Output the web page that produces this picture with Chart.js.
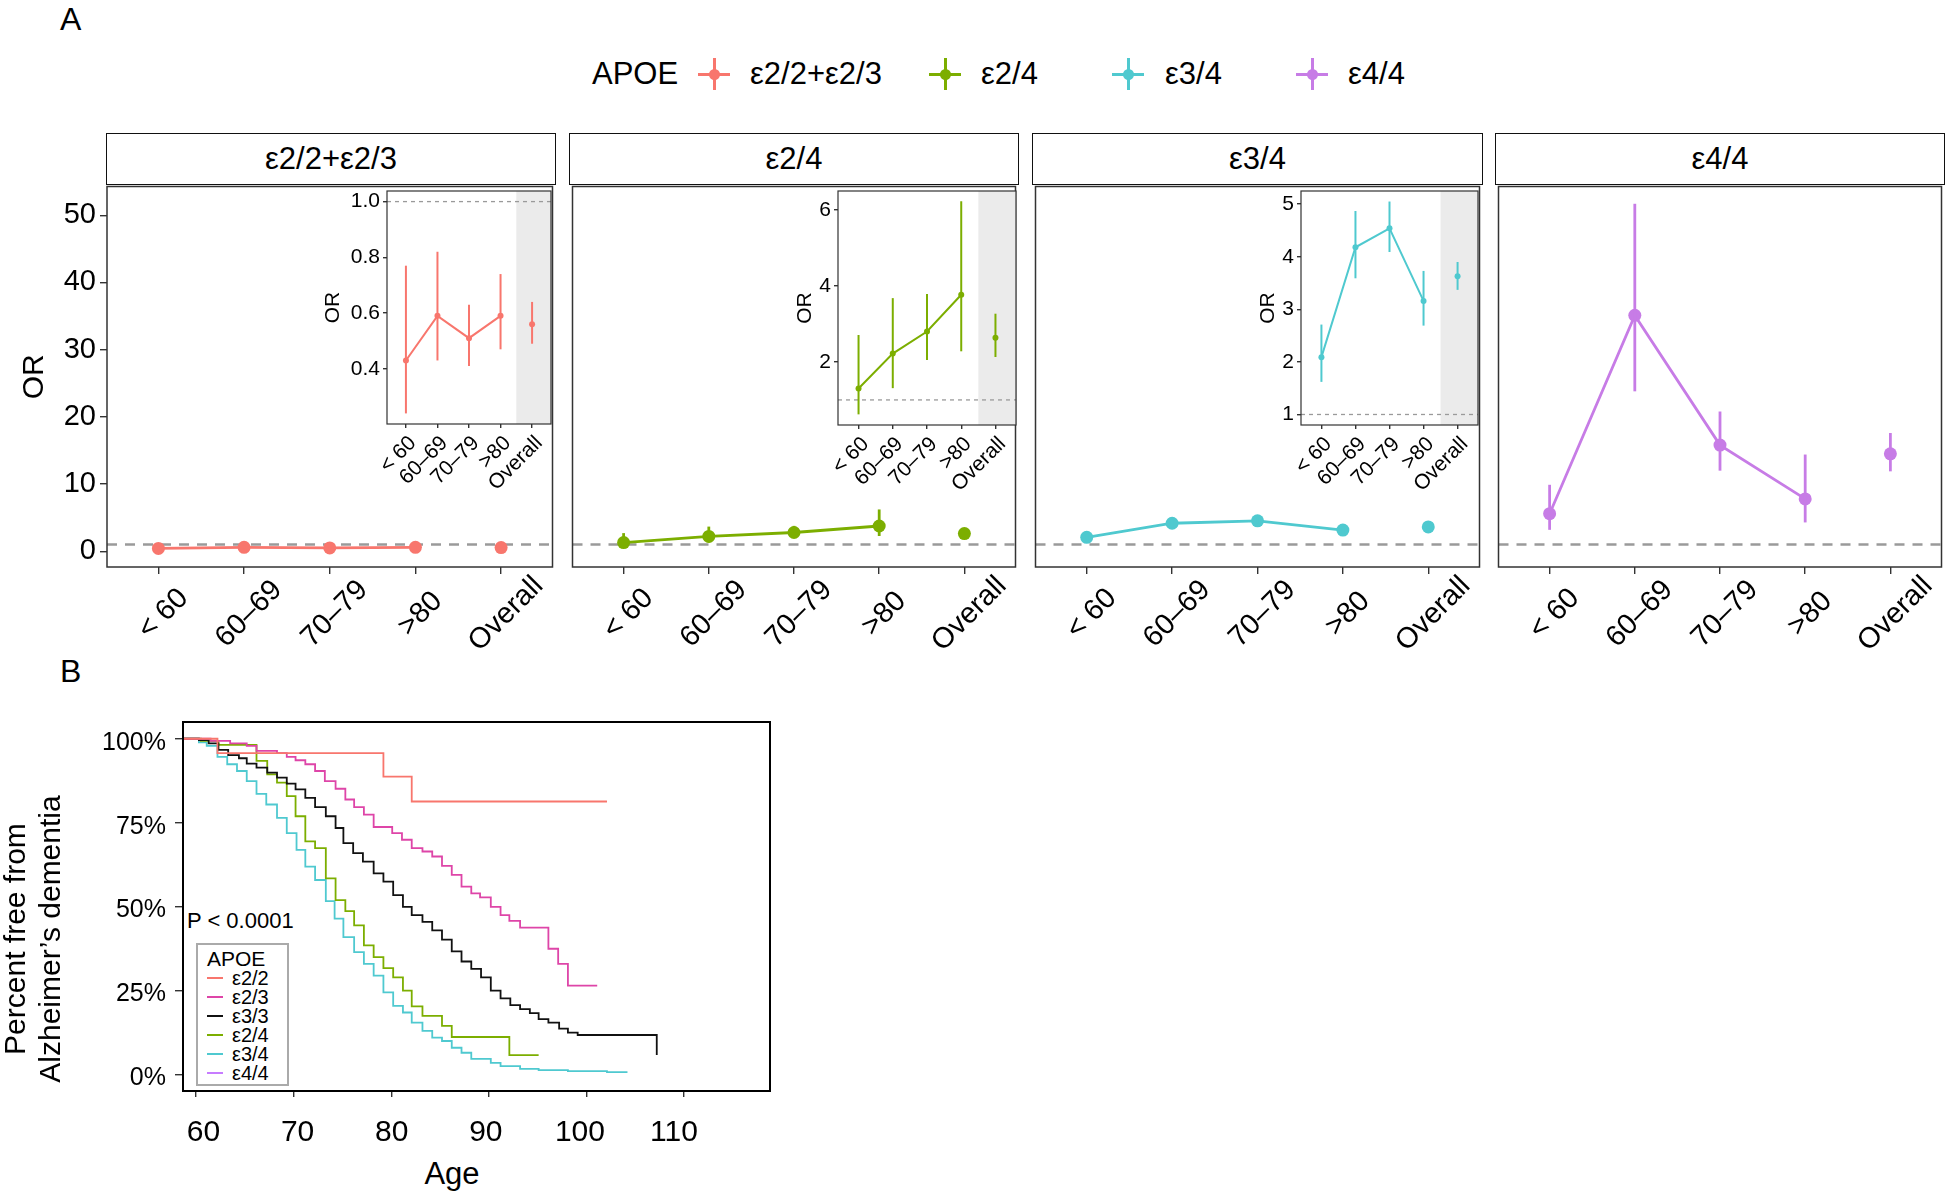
<!DOCTYPE html>
<html lang="en">
<head>
<meta charset="UTF-8">
<title>APOE, age and Alzheimer's dementia</title>
<script src="https://cdn.jsdelivr.net/npm/chart.js"></script>
<style>
    body { margin: 0; background: #fff; }
    #fig {
        position: relative; width: 1946px; height: 1192px; overflow: hidden;
        font-family: "Liberation Sans", Arial, Helvetica, sans-serif; color: #000;
    }
    #fig canvas { position: absolute; }
    .txt { position: absolute; white-space: nowrap; }
    .tag { font-size: 32px; line-height: 38px; }
    .strip {
        position: absolute; top: 133px; height: 52px; box-sizing: border-box;
        border: 1.5px solid #111; display: flex; align-items: center; justify-content: center;
        font-size: 31px; background: #fff;
    }
    .legA { font-size: 31px; line-height: 36px; top: 56px; }
    .keyA { position: absolute; top: 58px; width: 32px; height: 32px; }
    .keyA .h { position: absolute; left: 0; top: 14.5px; width: 32px; height: 3px; }
    .keyA .v { position: absolute; left: 14.5px; top: 0; width: 3px; height: 32px; }
    .keyA .d { position: absolute; left: 10.5px; top: 10.5px; width: 11px; height: 11px; border-radius: 50%; }
    #legB {
        position: absolute; left: 196px; top: 943px; width: 93px; height: 143px;
        box-sizing: border-box; border: 2px solid #aaa; background: #fff;
    }
    #legB .ttl { position: absolute; left: 9px; top: 1px; font-size: 21px; line-height: 26px; }
    #legB .row { position: absolute; left: 9px; height: 20px; font-size: 20px; line-height: 20px; }
    #legB .row span { position: absolute; left: 0; top: 9px; width: 16px; height: 2px; }
    #legB .row b { position: absolute; left: 25px; top: 0; font-weight: normal; }
    #ytitleB {
        position: absolute; left: 32px; top: 939px; width: 340px; font-size: 30px; line-height: 35px;
        text-align: center; transform: translate(-50%, -50%) rotate(-90deg); white-space: nowrap;
    }
</style>
</head>
<body>
<div id="fig">
    <div class="txt tag" style="left:60px; top:0px;">A</div>
    <div class="txt tag" style="left:60px; top:652px;">B</div>
    <div class="txt legA" style="left:592px;">APOE</div>
    <div class="txt" style="left:187px; top:908px; font-size:22px; line-height:26px;">P &lt; 0.0001</div>
    <div class="txt" style="left:452px; top:1155px; font-size:31px; line-height:37px; transform:translateX(-50%);">Age</div>
    <div id="ytitleB">Percent free from<br>Alzheimer’s dementia</div>
    <div id="legB"><div class="ttl">APOE</div></div>
</div>

<script>
    const FONT = '"Liberation Sans", Arial, Helvetica, sans-serif';
    Chart.defaults.font.family = FONT;
    Chart.defaults.color = '#000';

    // ---- Panel A: odds ratios by age group ----
    const ageGroups = ['< 60', '60–69', '70–79', '>80', 'Overall'];
    const genotypes = ['ε2/2+ε2/3', 'ε2/4', 'ε3/4', 'ε4/4'];
    const genoColors = ['#F8766D', '#7CAE00', '#4FC9CF', '#C77CE6'];

    const orE2 = [0.43, 0.59, 0.51, 0.59, 0.56];
    const loE2 = [0.24, 0.43, 0.41, 0.47, 0.49];
    const hiE2 = [0.77, 0.82, 0.63, 0.74, 0.64];

    const orE24 = [1.30, 2.22, 2.80, 3.77, 2.64];
    const loE24 = [0.62, 1.31, 2.05, 2.28, 2.13];
    const hiE24 = [2.71, 3.68, 3.79, 6.23, 3.27];

    const orE34 = [2.09, 4.18, 4.54, 3.16, 3.63];
    const loE34 = [1.62, 3.59, 4.09, 2.69, 3.37];
    const hiE34 = [2.71, 4.87, 5.05, 3.73, 3.90];

    const orE44 = [5.6, 35.1, 15.8, 7.8, 14.5];
    const loE44 = [3.2, 23.8, 12.0, 4.3, 11.9];
    const hiE44 = [9.9, 51.7, 20.8, 14.4, 17.6];

    const mainTicks = [0, 10, 20, 30, 40, 50];
    const insetTicksE2 = [0.4, 0.6, 0.8, 1.0];
    const insetTicksE24 = [2, 4, 6];
    const insetTicksE34 = [1, 2, 3, 4, 5];

    // ---- Panel B: Kaplan-Meier curves ----
    const kmGroups = ['ε2/2', 'ε2/3', 'ε3/3', 'ε2/4', 'ε3/4', 'ε4/4'];
    const kmColors = ['#F8766D', '#DE45A8', '#111111', '#7CAE00', '#4FC9D0', '#C77CFF'];
    const kmTicksX = [60, 70, 80, 90, 100, 110];
    const kmTicksY = [0, 25, 50, 75, 100];

    const ageE22 = [58.7, 62.2, 79.2, 82.1, 102.1];
    const survE22 = [100, 95.7, 88.7, 81.3, 81.3];

    const ageE23 = [58.7, 61.5, 63.5, 65.2, 66.2, 68.3, 69.3, 70.2, 71.2, 72.2, 73.2, 74.3, 75.3, 76.2,
        77.2, 78.2, 80.1, 81.1, 82.1, 83.2, 84.2, 85.2, 86.2, 87.2, 88.2, 89.1, 90.2, 91.2, 92.1, 93.2,
        96.1, 97.1, 98.1, 101.1];
    const survE23 = [100, 99.4, 98.6, 97.9, 96.4, 95.7, 94.6, 93.6, 92.4, 90.4, 87.4, 85.1, 81.9, 79.6,
        77.4, 73.7, 71.9, 69.9, 67.4, 66.4, 64.9, 62.1, 59.4, 55.9, 53.9, 52.7, 49.9, 47.4, 45.7, 43.7,
        37.4, 32.9, 26.4, 26.4];

    const ageE33 = [58.7, 60.3, 61.3, 62.3, 63.3, 64.4, 65.2, 66.2, 67.3, 68.3, 69.3, 70.2, 71.2, 72.2,
        73.3, 74.3, 75.1, 76.1, 77.1, 78.2, 79.2, 80.2, 81.2, 82.1, 83.2, 84.2, 85.2, 86.2, 87.2, 88.2,
        89.2, 90.2, 91.2, 92.2, 93.2, 94.2, 95.1, 96.1, 97.2, 98.1, 99.1, 107.2];
    const survE33 = [100, 99.6, 98.6, 96.7, 95.1, 94.2, 92.6, 91.4, 89.9, 88.4, 86.6, 84.9, 82.4, 79.6,
        76.9, 73.4, 68.9, 65.9, 63.4, 59.9, 57.4, 53.4, 49.9, 47.4, 45.4, 42.9, 40.1, 36.6, 33.6, 31.4,
        28.9, 24.9, 22.6, 20.6, 19.4, 18.2, 16.4, 15.4, 13.6, 12.4, 11.7, 5.7];

    const ageE24 = [58.7, 60.5, 62.3, 66.2, 67.3, 68.3, 69.3, 70.2, 71.2, 72.2, 73.3, 74.3, 75.3, 76.2,
        77.2, 78.2, 79.2, 80.2, 81.2, 82.1, 83.2, 85.2, 86.2, 92.1, 95.1];
    const survE24 = [100, 99.4, 98.2, 93.4, 89.4, 86.9, 82.9, 76.9, 69.4, 67.4, 58.4, 51.9, 48.6, 44.4,
        38.4, 34.9, 31.6, 28.9, 24.9, 20.2, 17.4, 14.4, 11.1, 5.7, 5.7];

    const ageE34 = [58.7, 60.3, 61.1, 62.2, 63.2, 64.2, 65.2, 66.2, 67.2, 68.3, 69.3, 70.3, 71.2, 72.2,
        73.3, 74.2, 75.1, 76.2, 77.2, 78.2, 79.2, 80.2, 81.2, 82.1, 83.2, 84.2, 85.2, 86.2, 87.2, 88.2,
        90.2, 91.2, 93.2, 95.1, 98.1, 102.1, 104.2];
    const survE34 = [100, 98.9, 97.9, 94.6, 92.4, 90.4, 87.4, 83.6, 80.4, 76.4, 71.9, 66.9, 61.9, 57.9,
        51.6, 46.4, 40.9, 36.4, 32.9, 29.4, 24.4, 20.4, 18.4, 15.4, 12.9, 10.9, 9.9, 7.9, 6.4, 4.6,
        3.4, 2.4, 1.6, 1.2, 0.9, 0.6, 0.6];

    const fig = document.getElementById('fig');

    // backgrounds, shaded "Overall" column, reference line, error bars, frame, rotated group labels
    const decor = {
        id: 'decor',
        beforeDatasetsDraw(chart, args, o) {
            const { ctx, chartArea: a, scales: { x, y } } = chart;
            ctx.save();
            if (o.bg) {
                ctx.fillStyle = o.bg;
                ctx.fillRect(a.left, a.top, a.width, a.height);
            }
            if (o.shadeFrom != null) {
                const sx = x.getPixelForValue(o.shadeFrom);
                ctx.fillStyle = '#ebebeb';
                ctx.fillRect(sx, a.top, a.right - sx, a.height);
            }
            if (o.refValue != null) {
                const ry = y.getPixelForValue(o.refValue);
                ctx.strokeStyle = '#9a9a9a';
                ctx.lineWidth = o.refWidth;
                ctx.setLineDash(o.refDash);
                ctx.beginPath();
                ctx.moveTo(a.left, ry);
                ctx.lineTo(a.right, ry);
                ctx.stroke();
            }
            ctx.restore();
        },
        afterDatasetsDraw(chart, args, o) {
            if (!o.barWidth) return;
            const { ctx, scales: { x, y } } = chart;
            chart.data.datasets.forEach(ds => {
                if (!ds.lo) return;
                ctx.save();
                ctx.strokeStyle = ds.borderColor;
                ctx.lineWidth = o.barWidth;
                ds.data.forEach((p, i) => {
                    const px = x.getPixelForValue(p.x);
                    ctx.beginPath();
                    ctx.moveTo(px, y.getPixelForValue(ds.lo[i]));
                    ctx.lineTo(px, y.getPixelForValue(ds.hi[i]));
                    ctx.stroke();
                });
                ctx.restore();
            });
        },
        afterDraw(chart, args, o) {
            const { ctx, chartArea: a, scales: { x } } = chart;
            if (o.frameWidth) {
                ctx.save();
                ctx.strokeStyle = o.frameColor;
                ctx.lineWidth = o.frameWidth;
                ctx.strokeRect(a.left, a.top, a.width, a.height);
                ctx.restore();
            }
            if (o.labelFont) {
                // group labels centred under their ticks, turned 45 degrees
                ctx.save();
                ctx.font = o.labelFont + 'px ' + FONT;
                ctx.fillStyle = '#000';
                ctx.textAlign = 'center';
                ctx.textBaseline = 'middle';
                ageGroups.forEach((g, i) => {
                    ctx.save();
                    ctx.translate(x.getPixelForValue(i) + o.labelDx, a.bottom + o.labelDy);
                    ctx.rotate(-Math.PI / 4);
                    ctx.fillText(g, 0, 0);
                    ctx.restore();
                });
                ctx.restore();
            }
        }
    };
    Chart.register(decor);

    function noPad(s) {
        s.paddingTop = 0; s.paddingBottom = 0; s.paddingLeft = 0; s.paddingRight = 0;
    }

    function makeChart(left, top, w, h, config) {
        const c = document.createElement('canvas');
        c.width = w; c.height = h;
        c.style.left = left + 'px'; c.style.top = top + 'px';
        fig.appendChild(c);
        return new Chart(c, config);
    }

    function groupAxis(font, tickLen, pad, height, showLabels, shift) {
        return {
            type: 'linear', min: -0.6, max: 4.6,
            afterBuildTicks: s => { s.ticks = ageGroups.map((g, i) => ({ value: i })); },
            afterFit: s => { s.height = height; noPad(s); },
            ticks: {
                display: showLabels, autoSkip: false, minRotation: 45, maxRotation: 45, padding: pad,
                labelOffset: shift, color: '#000', font: { size: font }, callback: v => ageGroups[v]
            },
            grid: { drawOnChartArea: false, tickLength: tickLen, color: '#333', lineWidth: 1.4 },
            border: { display: false }
        };
    }

    function valueAxis(min, max, ticks, fmt, s) {
        return {
            type: 'linear', min: min, max: max, display: s.show,
            afterBuildTicks: a => { a.ticks = ticks.map(v => ({ value: v })); },
            afterFit: a => { a.width = s.width; noPad(a); },
            ticks: { padding: s.pad, color: '#000', font: { size: s.font }, callback: v => fmt(v) },
            grid: { drawOnChartArea: false, tickLength: s.tickLen, color: '#333', lineWidth: 1.4 },
            border: { display: false },
            title: {
                display: true, text: 'OR', color: '#000',
                font: { size: s.titleFont }, padding: { top: s.titlePad, bottom: 0 }
            }
        };
    }

    function orDatasets(or, lo, hi, color, r, lw) {
        const idx = [0, 1, 2, 3];
        const base = { borderColor: color, backgroundColor: color, pointRadius: r, pointBorderWidth: 0, borderWidth: lw };
        return [
            Object.assign({ data: idx.map(i => ({ x: i, y: or[i] })), lo: idx.map(i => lo[i]), hi: idx.map(i => hi[i]), showLine: true }, base),
            Object.assign({ data: [{ x: 4, y: or[4] }], lo: [lo[4]], hi: [hi[4]], showLine: false }, base)
        ];
    }

    const baseOpts = {
        responsive: false, animation: false, devicePixelRatio: 1, events: [],
        plugins: { legend: { display: false }, tooltip: { enabled: false } }
    };

    // ---- main facet panels ----
    const panelData = [[orE2, loE2, hiE2], [orE24, loE24, hiE24], [orE34, loE34, hiE34], [orE44, loE44, hiE44]];
    const plotLeft = [107, 570, 1033, 1496];
    const plotW = [448, 448, 449, 448];
    const plotTop = 184, plotH = 383, mainXAxH = 100;

    panelData.forEach((d, k) => {
        const first = k === 0;
        const yW = first ? plotLeft[0] : 0;
        const left = first ? 0 : plotLeft[k] - 4;
        const w = (first ? yW : 4) + plotW[k] + 4;
        const h = 4 + plotH + mainXAxH;

        const strip = document.createElement('div');
        strip.className = 'strip';
        strip.style.left = (plotLeft[k] - 0.75) + 'px';
        strip.style.width = (plotW[k] + 1.5) + 'px';
        strip.textContent = genotypes[k];
        fig.appendChild(strip);

        makeChart(left, plotTop - 4, w, h, {
            type: 'scatter',
            data: { datasets: orDatasets(d[0], d[1], d[2], genoColors[k], 6.5, 2.8) },
            options: Object.assign({}, baseOpts, {
                layout: { padding: { left: first ? 0 : 4, right: 4, top: 4, bottom: 0 } },
                scales: {
                    x: groupAxis(29, 7, 4, mainXAxH, false, 0),
                    y: valueAxis(-2.33, 54.27, mainTicks, v => String(v),
                        { show: first, width: yW, pad: 4, font: 29, tickLen: 7, titleFont: 30, titlePad: 17 })
                },
                plugins: Object.assign({}, baseOpts.plugins, {
                    decor: { refValue: 1, refWidth: 2.5, refDash: [10, 8], barWidth: 2.8, frameColor: '#333', frameWidth: 1.5,
                             labelFont: 29, labelDx: 5, labelDy: 47 }
                })
            })
        });
    });

    // ---- insets ----
    const insets = [
        { d: panelData[0], color: genoColors[0], left: 387, w: 164, h: 235, yW: 67, min: 0.202, max: 1.038,
          ticks: insetTicksE2, fmt: v => v.toFixed(1), titlePad: 1 },
        { d: panelData[1], color: genoColors[1], left: 838, w: 178, h: 236, yW: 45, min: 0.34, max: 6.5,
          ticks: insetTicksE24, fmt: v => String(v), titlePad: 0 },
        { d: panelData[2], color: genoColors[2], left: 1301, w: 177, h: 236, yW: 45, min: 0.8, max: 5.25,
          ticks: insetTicksE34, fmt: v => String(v), titlePad: 0 }
    ];
    const insetTop = 189, insetXAxH = 75;

    insets.forEach(s => {
        makeChart(s.left - s.yW, insetTop - 2, s.yW + s.w + 14, 2 + s.h + insetXAxH, {
            type: 'scatter',
            data: { datasets: orDatasets(s.d[0], s.d[1], s.d[2], s.color, 3, 2) },
            options: Object.assign({}, baseOpts, {
                layout: { padding: { left: 0, right: 14, top: 2, bottom: 0 } },
                scales: {
                    x: groupAxis(21, 4, 3, insetXAxH, true, 7),
                    y: valueAxis(s.min, s.max, s.ticks, s.fmt,
                        { show: true, width: s.yW, pad: 3, font: 21, tickLen: 4, titleFont: 21, titlePad: s.titlePad })
                },
                plugins: Object.assign({}, baseOpts.plugins, {
                    decor: { bg: '#fff', shadeFrom: 3.5, refValue: 1, refWidth: 1.3, refDash: [4, 4],
                             barWidth: 2, frameColor: '#333', frameWidth: 1.2 }
                })
            })
        });
    });

    // ---- legend for panel A ----
    const keyX = [714, 945, 1128, 1312];
    const labelX = [750, 981, 1165, 1348];
    genotypes.forEach((g, k) => {
        const key = document.createElement('div');
        key.className = 'keyA';
        key.style.left = (keyX[k] - 16) + 'px';
        key.innerHTML = '<div class="h"></div><div class="v"></div><div class="d"></div>';
        key.querySelectorAll('div').forEach(e => { e.style.background = genoColors[k]; });
        fig.appendChild(key);
        const t = document.createElement('div');
        t.className = 'txt legA';
        t.style.left = labelX[k] + 'px';
        t.textContent = g;
        fig.appendChild(t);
    });

    // ---- panel B: survival curves ----
    const kmSeries = [[ageE22, survE22], [ageE23, survE23], [ageE33, survE33], [ageE24, survE24], [ageE34, survE34]];
    const kmTop = 722, kmH = 369, kmW = 587;
    makeChart(-3, kmTop - 5, 186 + kmW + 4, 1192 - (kmTop - 5), {
        type: 'line',
        data: {
            datasets: kmSeries.map((s, k) => ({
                data: s[0].map((a, i) => ({ x: a, y: s[1][i] })),
                borderColor: kmColors[k], borderWidth: 1.8, pointRadius: 0, stepped: 'before', tension: 0
            }))
        },
        options: Object.assign({}, baseOpts, {
            layout: { padding: { left: 0, right: 4, top: 5, bottom: 0 } },
            scales: {
                // tick marks on the age scale
                x: {
                    type: 'linear', min: 58.67, max: 118.8, weight: 0,
                    afterBuildTicks: s => { s.ticks = kmTicksX.map(v => ({ value: v })); },
                    afterFit: s => { s.height = 6; noPad(s); },
                    ticks: { display: false },
                    grid: { drawOnChartArea: false, tickLength: 6, color: '#333', lineWidth: 1.4 },
                    border: { display: false }
                },
                // the printed age labels sit on a slightly narrower spacing than the marks
                xLab: {
                    type: 'linear', position: 'bottom', min: 57.82, max: 120.2, weight: 1,
                    afterBuildTicks: s => { s.ticks = kmTicksX.map(v => ({ value: v })); },
                    afterFit: s => { s.height = 1192 - (kmTop + kmH) - 6; noPad(s); },
                    ticks: { padding: 10, color: '#000', font: { size: 30 }, maxRotation: 0 },
                    grid: { display: false },
                    border: { display: false }
                },
                y: {
                    type: 'linear', min: -5, max: 105,
                    afterBuildTicks: s => { s.ticks = kmTicksY.map(v => ({ value: v })); },
                    afterFit: s => { s.width = 186; noPad(s); },
                    ticks: { padding: 9, labelOffset: 4, color: '#000', font: { size: 25 }, callback: v => v + '%' },
                    grid: { drawOnChartArea: false, tickLength: 8, color: '#333', lineWidth: 1.4 },
                    border: { display: false }
                }
            },
            plugins: Object.assign({}, baseOpts.plugins, {
                decor: { frameColor: '#000', frameWidth: 2 }
            })
        })
    });

    // legend inside panel B
    const legB = document.getElementById('legB');
    kmGroups.forEach((g, k) => {
        const row = document.createElement('div');
        row.className = 'row';
        row.style.top = (23 + k * 19) + 'px';
        row.innerHTML = '<span></span><b></b>';
        row.querySelector('span').style.background = kmColors[k];
        row.querySelector('b').textContent = g;
        legB.appendChild(row);
    });
    // keep legend and axis title above the chart canvas
    fig.appendChild(legB);
    fig.appendChild(document.getElementById('ytitleB'));
</script>
</body>
</html>
